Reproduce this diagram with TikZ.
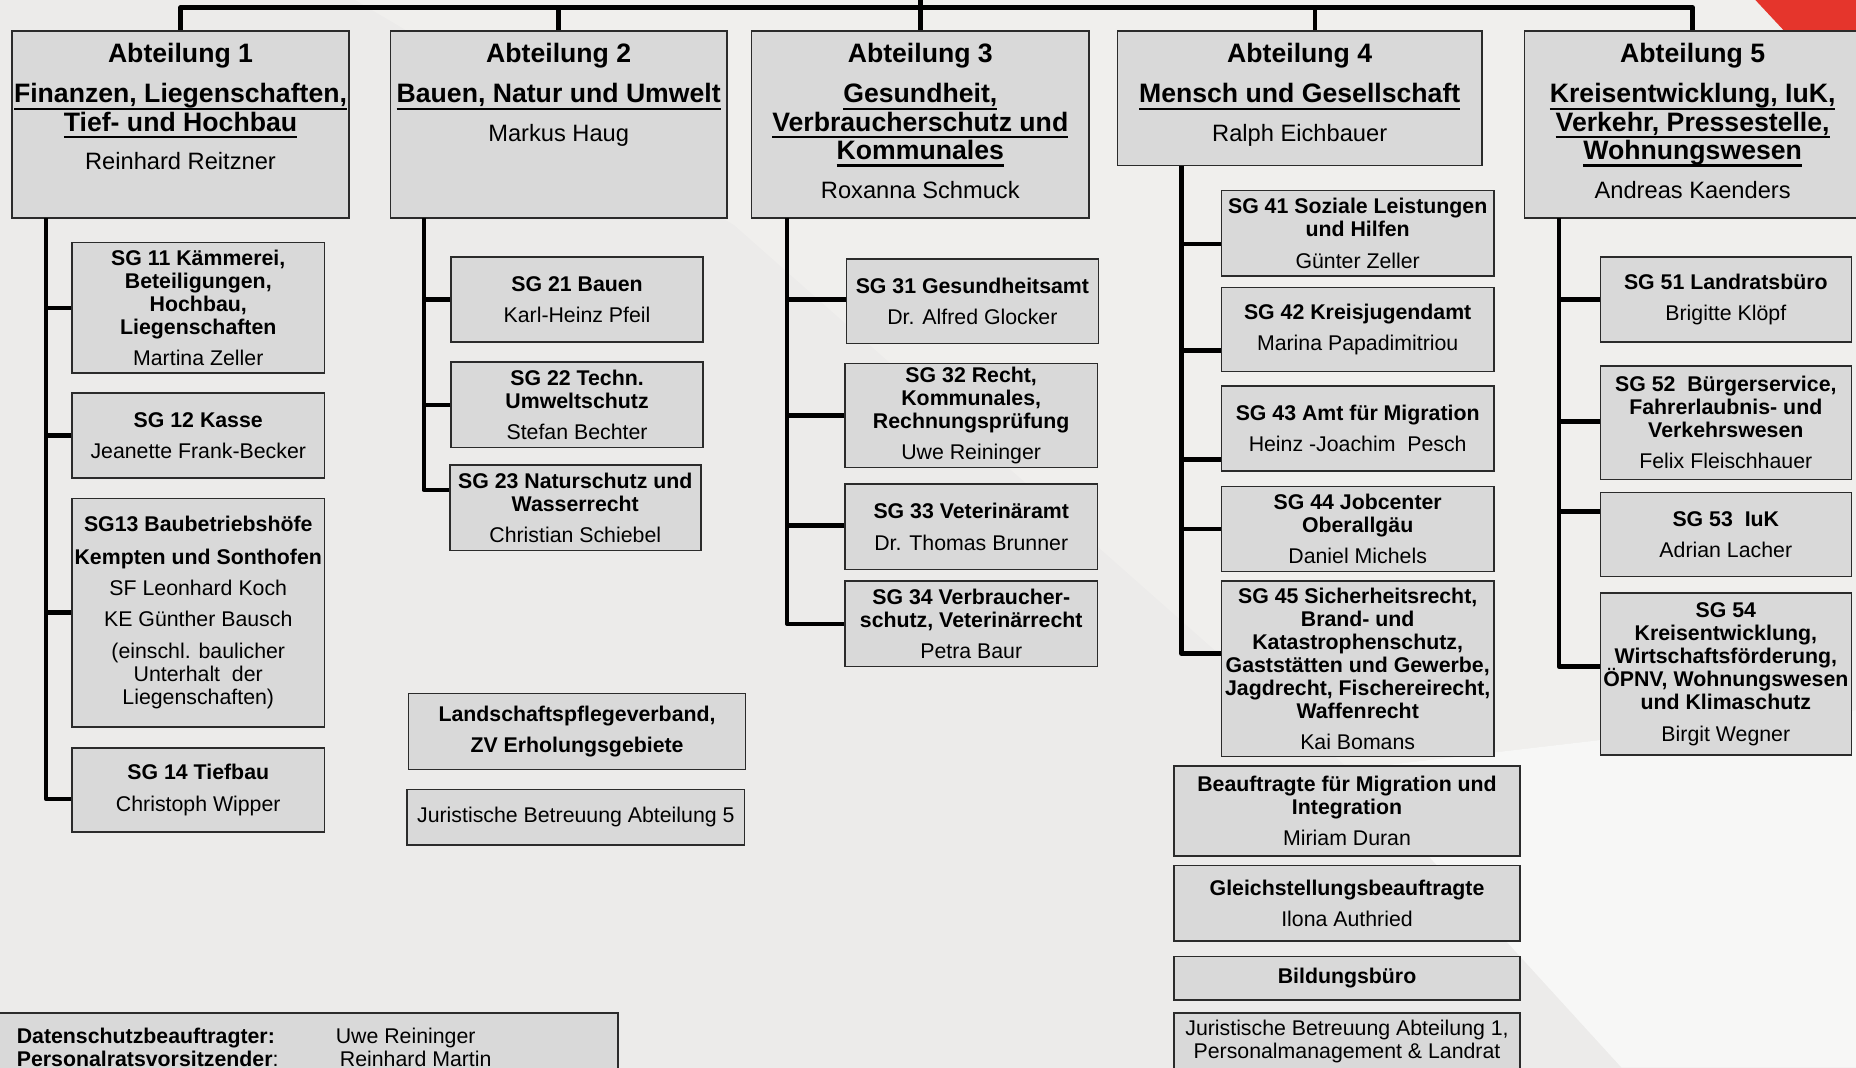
\documentclass[tikz,border=0pt]{standalone}
\usepackage{fontspec}
\setmainfont{Liberation Sans}
\usepackage{tikz}

\definecolor{boxfill}{HTML}{D9D9D9}
\definecolor{boxline}{HTML}{2B2B2B}
\definecolor{bgbase}{HTML}{ECEBEA}
\definecolor{bglight}{HTML}{F0EFED}
\definecolor{bgwhite}{HTML}{F7F7F6}
\definecolor{markred}{HTML}{E5352C}

\newcommand\abtfont{\fontsize{22.5}{24}\selectfont\bfseries}
\newcommand\sgfont{\fontsize{18}{19.5}\selectfont\bfseries}
\newcommand\headname{\fontsize{20}{24}\selectfont\mdseries}
\newsavebox\ulbox
\newcommand\ulined[1]{\sbox\ulbox{#1}\rlap{\rule[-6pt]{\wd\ulbox}{2pt}}\usebox\ulbox}

\begin{document}
\begin{tikzpicture}[x=1pt,y=-1pt,
    abtbox/.style={draw=boxline,line width=1.3pt,fill=boxfill,minimum width=285,minimum height=158,inner sep=0pt},
    abttext/.style={font=\abtfont,align=center,anchor=north,inner sep=0pt},
    sgbox/.style={draw=boxline,line width=1.3pt,fill=boxfill,font=\sgfont,align=center,inner sep=0pt,minimum width=213,minimum height=72},
    conn/.style={line width=3.8pt,line join=round}]
    \useasboundingbox (0,0) rectangle (1568,902);
    \clip (0,0) rectangle (1568,902);
    % background
    \fill[bgbase] (0,0) rectangle (1568,902);
    \fill[bglight] (300,0) -- (1568,0) -- (1568,600) -- (1140,650) -- (620,190) -- cycle;
    \fill[bgwhite] (1140,650) -- (1568,600) -- (1568,902) -- (1370,902) -- cycle;
    \fill[markred] (1483,0) -- (1568,0) -- (1568,30) -- (1511,30) -- cycle;

    % Abteilungen
    \node[abtbox] (abt1) at (152.5,105) {};
    \node[abttext] (abt1t) at ([yshift=-11]abt1.north) {Abteilung 1\\[10pt]\ulined{Finanzen, Liegenschaften,}\\\ulined{Tief- und Hochbau}\\[8.5pt]\headname Reinhard Reitzner};
    \node[abtbox,minimum width=284] (abt2) at (472,105) {};
    \node[abttext] (abt2t) at ([yshift=-11]abt2.north) {Abteilung 2\\[10pt]\ulined{Bauen, Natur und Umwelt}\\[8.5pt]\headname Markus Haug};
    \node[abtbox] (abt3) at (777.5,105) {};
    \node[abttext] (abt3t) at ([yshift=-11]abt3.north) {Abteilung 3\\[10pt]\ulined{Gesundheit,}\\\ulined{Verbraucherschutz und}\\\ulined{Kommunales}\\[8.5pt]\headname Roxanna Schmuck};
    \node[abtbox,minimum width=308,minimum height=114] (abt4) at (1098,83) {};
    \node[abttext] (abt4t) at ([yshift=-11]abt4.north) {Abteilung 4\\[10pt]\ulined{Mensch und Gesellschaft}\\[8.5pt]\headname Ralph Eichbauer};
    \node[abtbox,minimum width=284] (abt5) at (1430,105) {};
    \node[abttext] (abt5t) at ([yshift=-11]abt5.north) {Abteilung 5\\[10pt]\ulined{Kreisentwicklung, IuK,}\\\ulined{Verkehr, Pressestelle,}\\\ulined{Wohnungswesen}\\[8.5pt]\headname Andreas Kaenders};

    % Abteilung 1
    \node[sgbox,minimum height=110] (sg11) at (167.5,260) {SG 11 Kämmerei,\\Beteiligungen,\\Hochbau,\\Liegenschaften\\[7pt]\mdseries Martina Zeller};
    \node[sgbox] (sg12) at (167.5,368) {SG 12 Kasse\\[7pt]\mdseries Jeanette Frank-Becker};
    \node[sgbox,minimum height=193] (sg13) at (167.5,517.5) {SG13 Baubetriebshöfe\\[8pt]Kempten und Sonthofen\\[7pt]\mdseries SF Leonhard Koch\\[7pt]\mdseries KE Günther Bausch\\[7pt]\mdseries (einschl. baulicher\\\mdseries Unterhalt\ \ der\\\mdseries Liegenschaften)};
    \node[sgbox,minimum height=71] (sg14) at (167.5,667.5) {SG 14 Tiefbau\\[7pt]\mdseries Christoph Wipper};

    % Abteilung 2
    \node[sgbox] (sg21) at (487.5,253) {SG 21 Bauen\\[7pt]\mdseries Karl-Heinz Pfeil};
    \node[sgbox] (sg22) at (487.5,342) {SG 22 Techn.\\Umweltschutz\\[7pt]\mdseries Stefan Bechter};
    \node[sgbox,minimum width=212] (sg23) at (486,429) {SG 23 Naturschutz und\\Wasserrecht\\[7pt]\mdseries Christian Schiebel};
    \node[sgbox,minimum width=285,minimum height=64] (lpv) at (487.5,618) {Landschaftspflegeverband,\\[7pt]ZV Erholungsgebiete};
    \node[sgbox,minimum width=285,minimum height=47] (jur5) at (486.5,690.5) {\mdseries Juristische Betreuung Abteilung 5};

    % Abteilung 3
    \node[sgbox,minimum height=71] (sg31) at (821.5,254.5) {SG 31 Gesundheitsamt\\[7pt]\mdseries Dr. Alfred Glocker};
    \node[sgbox,minimum height=88] (sg32) at (820.5,351) {SG 32 Recht,\\Kommunales,\\Rechnungsprüfung\\[7pt]\mdseries Uwe Reininger};
    \node[sgbox] (sg33) at (820.5,445) {SG 33 Veterinäramt\\[7pt]\mdseries Dr. Thomas Brunner};
    \node[sgbox] (sg34) at (820.5,527) {SG 34 Verbraucher-\\schutz, Veterinärrecht\\[7pt]\mdseries Petra Baur};

    % Abteilung 4
    \node[sgbox,minimum width=230] (sg41) at (1147,197) {SG 41 Soziale Leistungen\\und Hilfen\\[7pt]\mdseries Günter Zeller};
    \node[sgbox,minimum width=230,minimum height=71] (sg42) at (1147,278.5) {SG 42 Kreisjugendamt\\[7pt]\mdseries Marina Papadimitriou};
    \node[sgbox,minimum width=230] (sg43) at (1147,362) {SG 43 Amt für Migration\\[7pt]\mdseries Heinz -Joachim\ \ Pesch};
    \node[sgbox,minimum width=230] (sg44) at (1147,447) {SG 44 Jobcenter\\Oberallgäu\\[7pt]\mdseries Daniel Michels};
    \node[sgbox,minimum width=230,minimum height=148] (sg45) at (1147,565) {SG 45 Sicherheitsrecht,\\Brand- und\\Katastrophenschutz,\\Gaststätten und Gewerbe,\\Jagdrecht, Fischereirecht,\\Waffenrecht\\[7pt]\mdseries Kai Bomans};
    \node[sgbox,minimum width=292,minimum height=76] (miba) at (1138,685) {Beauftragte für Migration und\\Integration\\[7pt]\mdseries Miriam Duran};
    \node[sgbox,minimum width=292,minimum height=64] (gsb) at (1138,763) {Gleichstellungsbeauftragte\\[7pt]\mdseries Ilona Authried};
    \node[sgbox,minimum width=292,minimum height=37] (bib) at (1138,826.5) {Bildungsbüro};
    \node[sgbox,minimum width=292,minimum height=47] (jur1) at (1138,879.5) {\mdseries Juristische Betreuung Abteilung 1,\\\mdseries Personalmanagement \& Landrat};

    % Abteilung 5
    \node[sgbox,minimum width=212] (sg51) at (1458,253) {SG 51 Landratsbüro\\[7pt]\mdseries Brigitte Klöpf};
    \node[sgbox,minimum width=212,minimum height=96] (sg52) at (1458,357) {SG 52\ \ Bürgerservice,\\Fahrerlaubnis- und\\Verkehrswesen\\[7pt]\mdseries Felix Fleischhauer};
    \node[sgbox,minimum width=212,minimum height=71] (sg53) at (1458,451.5) {SG 53\ \ IuK\\[7pt]\mdseries Adrian Lacher};
    \node[sgbox,minimum width=212,minimum height=137] (sg54) at (1458,569.5) {SG 54\\Kreisentwicklung,\\Wirtschaftsförderung,\\ÖPNV, Wohnungswesen\\und Klimaschutz\\[7pt]\mdseries Birgit Wegner};

    % Beauftragte unten links
    \node[sgbox,minimum width=525,minimum height=80] (dsb) at (259.5,896) {};
    \node[font=\sgfont,align=left,anchor=west,inner sep=0pt] (dsbt) at (14,885) {\makebox[269.5pt][l]{Datenschutzbeauftragter:}\mdseries Uwe Reininger\\\makebox[273pt][l]{Personalratsvorsitzender\mdseries:}\mdseries Reinhard Martin};

    % Verbindungen
    \coordinate (bus) at (0,6.5);
    \coordinate (upline) at (0,-4);
    \draw[conn] (abt1.north) -- (abt1.north |- bus) -- (abt5.north |- bus) -- (abt5.north);
    \draw[conn] (abt2.north) -- (abt2.north |- bus);
    \draw[conn] (abt3.north) -- (abt3.north |- upline);
    \draw[conn] ([xshift=13]abt4.north) -- ++(0,-19.5);

    \coordinate (sp1) at (39,184);
    \coordinate (sp2) at (358,184);
    \coordinate (sp3) at (665,184);
    \coordinate (sp4) at (998,140);
    \coordinate (sp5) at (1317,184);
    \foreach \n/\d in {sg11/0,sg12/0,sg13/0,sg14/-7.5}
      \draw[conn] ([yshift=\d]\n.west) -| (sp1);
    \foreach \n/\d in {sg21/0,sg22/0,sg23/15}
      \draw[conn] ([yshift=\d]\n.west) -| (sp2);
    \foreach \n/\d in {sg31/1.5,sg32/0,sg33/1,sg34/0}
      \draw[conn] ([yshift=\d]\n.west) -| (sp3);
    \foreach \n/\d in {sg41/-9,sg42/-17.5,sg43/-26,sg44/0,sg45/13}
      \draw[conn] ([yshift=\d]\n.west) -| (sp4);
    \foreach \n/\d in {sg51/0,sg52/1,sg53/19.5,sg54/6.5}
      \draw[conn] ([yshift=\d]\n.west) -| (sp5);
\end{tikzpicture}
\end{document}
